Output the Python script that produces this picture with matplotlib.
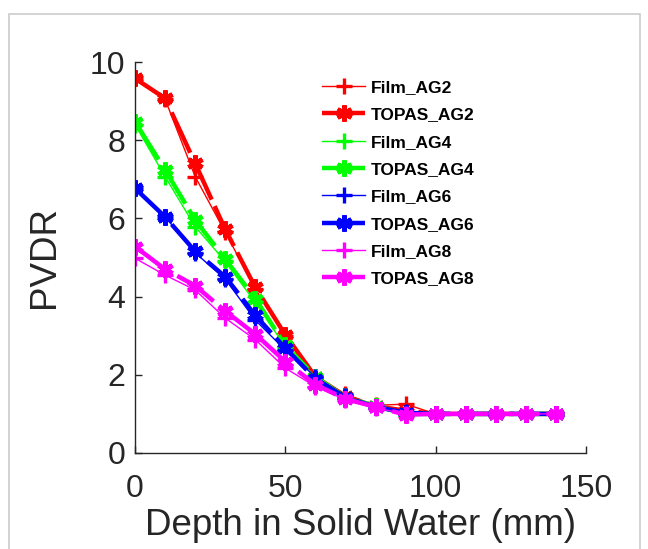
import matplotlib
matplotlib.use("Agg")
import matplotlib.pyplot as plt
from matplotlib.patches import Rectangle

plt.rcParams['font.family'] = ['Liberation Sans', 'DejaVu Sans']

depth = [0, 10, 20, 30, 40, 50, 60, 70, 80, 90, 100, 110, 120, 130, 140]

film_ag2 = [9.58, 9.05, 7.07, 5.65, 4.20, 3.00, 1.95, 1.50, 1.22, 1.25, 1.0, 1.0, 1.0, 1.0, 1.0]
topas_ag2 = [9.58, 9.07, 7.41, 5.72, 4.24, 3.02, 1.95, 1.45, 1.20, 1.08, 1.0, 1.0, 1.0, 1.0, 1.0]
film_ag4 = [8.40, 7.07, 5.79, 4.90, 3.85, 2.72, 1.95, 1.45, 1.20, 1.00, 1.0, 1.0, 1.0, 1.0, 1.0]
topas_ag4 = [8.47, 7.24, 5.96, 4.96, 3.95, 2.75, 1.95, 1.42, 1.20, 1.00, 1.0, 1.0, 1.0, 1.0, 1.0]
film_ag6 = [6.77, 6.04, 5.12, 4.45, 3.40, 2.63, 1.95, 1.45, 1.18, 1.05, 1.0, 1.0, 1.0, 1.0, 1.0]
topas_ag6 = [6.77, 6.04, 5.16, 4.51, 3.52, 2.68, 1.90, 1.42, 1.18, 1.03, 1.0, 1.0, 1.0, 1.0, 1.0]
film_ag8 = [4.98, 4.55, 4.17, 3.45, 2.90, 2.17, 1.70, 1.36, 1.15, 1.00, 1.0, 1.0, 1.0, 1.0, 1.0]
topas_ag8 = [5.28, 4.70, 4.28, 3.63, 3.04, 2.34, 1.75, 1.38, 1.18, 0.98, 1.0, 1.0, 1.0, 1.0, 1.0]

series = [
    ("Film_AG2", film_ag2, "#ff0000", "film"),
    ("TOPAS_AG2", topas_ag2, "#ff0000", "topas"),
    ("Film_AG4", film_ag4, "#00ff00", "film"),
    ("TOPAS_AG4", topas_ag4, "#00ff00", "topas"),
    ("Film_AG6", film_ag6, "#0000ff", "film"),
    ("TOPAS_AG6", topas_ag6, "#0000ff", "topas"),
    ("Film_AG8", film_ag8, "#ff00ff", "film"),
    ("TOPAS_AG8", topas_ag8, "#ff00ff", "topas"),
]

xticks = [0, 50, 100, 150]
yticks = [0, 2, 4, 6, 8, 10]

fig = plt.figure(figsize=(6.48, 5.49), dpi=100)
fig.patches.append(Rectangle((9 / 648, -0.1), (640 - 9) / 648, 0.1 + (549 - 14) / 549,
                             transform=fig.transFigure, fill=False,
                             edgecolor="#cccccc", linewidth=1.2))

ax = fig.add_axes([135 / 648, (549 - 453) / 549, (586 - 135) / 648, (453 - 62) / 549])

for label, vals, color, kind in series:
    if kind == "film":
        ax.plot(depth, vals, color=color, linewidth=1.0, marker='+',
                markersize=12, markeredgewidth=2.4, label=label)
    else:
        ax.plot(depth, vals, color=color, linewidth=3.2, linestyle=(0, (10, 1.6)),
                marker=(6, 2, 0), markersize=11.5, markeredgewidth=3.4, label=label)

ax.set_xlim(0, 150)
ax.set_ylim(0, 10)
ax.set_xticks(xticks)
ax.set_yticks(yticks)
ax.tick_params(direction='in', length=5, width=1, colors="#262626", labelsize=23,
               labelcolor="#262626")
ax.tick_params(axis='x', pad=15)
ax.tick_params(axis='y', pad=7)
for s in ["top", "right"]:
    ax.spines[s].set_visible(False)
for s in ["left", "bottom"]:
    ax.spines[s].set_color("#262626")
    ax.spines[s].set_linewidth(1)

ax.set_xlabel("Depth in Solid Water (mm)", fontsize=26.5, color="#262626", labelpad=3)
ax.set_ylabel("PVDR", fontsize=26.5, color="#262626", labelpad=20)

leg = ax.legend(loc='upper left', bbox_to_anchor=(322 / 648, 1 - 80 / 549),
                bbox_transform=fig.transFigure, frameon=False,
                prop={'weight': 'bold', 'size': 12.5}, handlelength=2.5,
                labelspacing=0.70, handletextpad=0.3, borderpad=0, borderaxespad=0)

fig.savefig("out.png", dpi=100)
